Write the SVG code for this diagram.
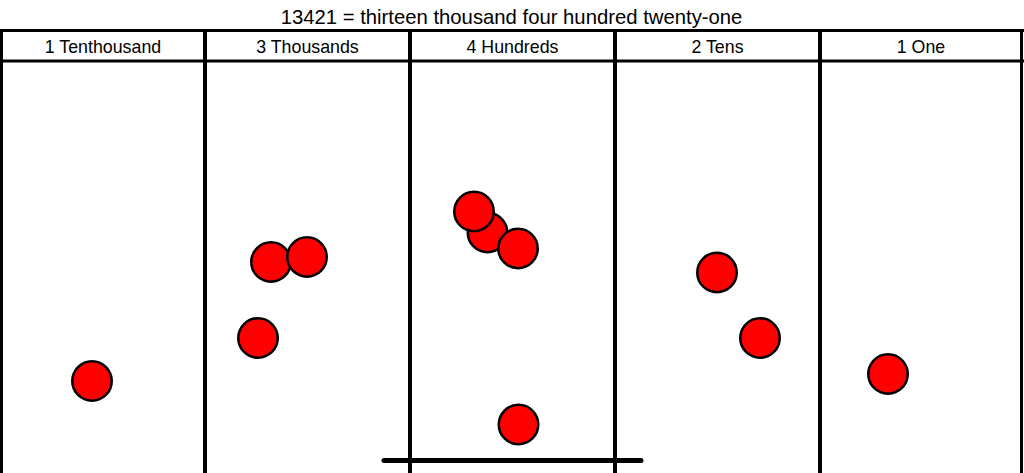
<svg xmlns="http://www.w3.org/2000/svg" width="1024" height="473" viewBox="0 0 1024 473">
<style>
.t{font-family:"Liberation Sans",Arial,sans-serif;fill:#000;text-anchor:middle}
.h{font-size:17.8px}
.ln{stroke:#000;fill:none}
.c{fill:#ff0000;stroke:#000;stroke-width:2.5}
</style>
<rect width="1024" height="473" fill="#fff"/>
<text class="t" x="511.5" y="23.5" font-size="20.3">13421 = thirteen thousand four hundred twenty-one</text>
<g id="grid">
<line class="ln" x1="0" y1="30.5" x2="1024" y2="30.5" stroke-width="3"/>
<line class="ln" x1="0" y1="61" x2="1024" y2="61" stroke-width="3"/>
<line class="ln" x1="1.5" y1="29" x2="1.5" y2="473" stroke-width="3"/>
<line class="ln" x1="1021.5" y1="29" x2="1021.5" y2="473" stroke-width="3"/>
<line class="ln" x1="205" y1="29" x2="205" y2="473" stroke-width="4"/>
<line class="ln" x1="410" y1="29" x2="410" y2="473" stroke-width="4"/>
<line class="ln" x1="615" y1="29" x2="615" y2="473" stroke-width="4"/>
<line class="ln" x1="820" y1="29" x2="820" y2="473" stroke-width="4"/>
<line class="ln" x1="384" y1="460.5" x2="641" y2="460.5" stroke-width="5" stroke-linecap="round"/>
</g>
<g id="col-tenthousand">
<text class="t h" x="103" y="53">1 Tenthousand</text>
<circle class="c" cx="92" cy="381" r="19.75"/>
</g>
<g id="col-thousands">
<text class="t h" x="307.5" y="53">3 Thousands</text>
<circle class="c" cx="271" cy="262" r="19.75"/>
<circle class="c" cx="307" cy="257" r="19.75"/>
<circle class="c" cx="258" cy="338" r="19.75"/>
</g>
<g id="col-hundreds">
<text class="t h" x="512.5" y="53">4 Hundreds</text>
<circle class="c" cx="487.5" cy="232.5" r="19.75"/>
<circle class="c" cx="474" cy="211.5" r="19.75"/>
<circle class="c" cx="518" cy="248.5" r="19.75"/>
<circle class="c" cx="518.5" cy="424.5" r="19.75"/>
</g>
<g id="col-tens">
<text class="t h" x="717.5" y="53">2 Tens</text>
<circle class="c" cx="717" cy="272.5" r="19.75"/>
<circle class="c" cx="760" cy="338" r="19.75"/>
</g>
<g id="col-ones">
<text class="t h" x="921" y="53">1 One</text>
<circle class="c" cx="888" cy="374" r="19.75"/>
</g>
</svg>
